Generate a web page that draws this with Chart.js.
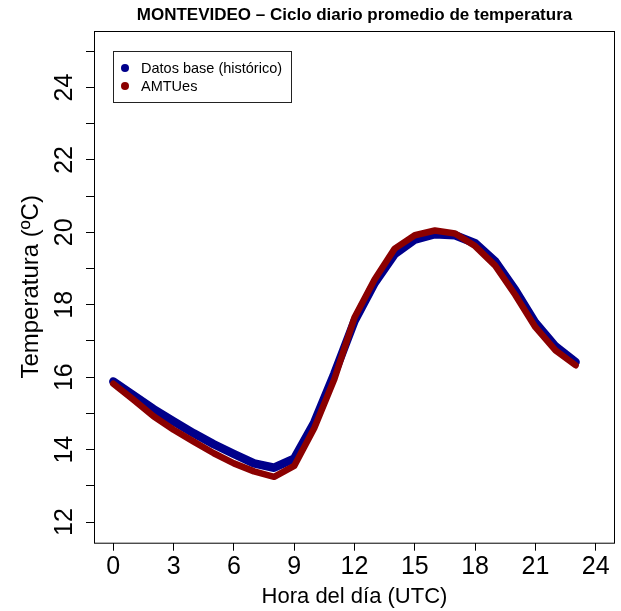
<!DOCTYPE html>
<html>
<head>
<meta charset="utf-8">
<title>MONTEVIDEO - Ciclo diario</title>
<script src="https://cdn.jsdelivr.net/npm/chart.js@4"></script>
<style>
  html, body { margin: 0; padding: 0; background: #fff; }
  #grafico { display: block; }
</style>
</head>
<body>
<canvas id="grafico" width="621" height="611"></canvas>
<script>
/** Datos del grafico */
const horas = [0, 1, 2, 3, 4, 5, 6, 7, 8, 9, 10, 11, 12, 13, 14, 15, 16, 17, 18, 19, 20, 21, 22, 23];
const tempBase = [15.88, 15.50, 15.12, 14.78, 14.45, 14.15, 13.88, 13.62, 13.50, 13.75, 14.75, 16.10,
    17.55, 18.60, 19.40, 19.80, 19.95, 19.92, 19.70, 19.20, 18.40, 17.50, 16.85, 16.42];
const tempAMTUes = [15.82, 15.38, 14.92, 14.55, 14.22, 13.90, 13.62, 13.40, 13.25, 13.55, 14.60, 15.95,
    17.65, 18.70, 19.55, 19.92, 20.05, 19.97, 19.62, 19.08, 18.27, 17.38, 16.74, 16.33];
const ticksX = [0, 3, 6, 9, 12, 15, 18, 21, 24];
const ticksY = [12, 13, 14, 15, 16, 17, 18, 19, 20, 21, 22, 23, 24, 25];
const etiquetas = ["Datos base (histórico)", "AMTUes"];

const fuente = "'Liberation Sans', Arial, Helvetica, sans-serif";
const azul = "#00008B";
const rojo = "#8B0000";

function puntos(valores) {
    return horas.map((h, i) => ({ x: h, y: valores[i] }));
}

/** Caja del grafico y leyenda */
const cajaYLeyenda = {
    id: "cajaYLeyenda",
    afterDraw(chart) {
        const c = chart.ctx;
        const a = chart.chartArea;
        c.save();
        c.strokeStyle = "#000";
        c.lineWidth = 1;
        c.strokeRect(a.left + 0.5, a.top + 0.5, a.right - a.left - 1, a.bottom - a.top);

        // leyenda
        c.strokeStyle = "#222";
        c.strokeRect(113.5, 51.5, 178, 51);
        const filas = [68, 86];
        chart.data.datasets.forEach((ds, i) => {
            c.fillStyle = ds.borderColor;
            c.beginPath();
            c.arc(125, filas[i], 4, 0, Math.PI * 2);
            c.fill();
            c.fillStyle = "#000";
            c.font = "14.5px " + fuente;
            c.textBaseline = "middle";
            c.textAlign = "left";
            c.fillText(ds.label, 141, filas[i] + 1);
        });
        c.restore();
    }
};

const ctx = document.getElementById("grafico");

new Chart(ctx, {
    type: "line",
    data: {
        datasets: [{
            label: etiquetas[0],
            data: puntos(tempBase),
            borderColor: azul,
            backgroundColor: azul,
            borderWidth: 8.5,
            order: 1
        }, {
            label: etiquetas[1],
            data: puntos(tempAMTUes),
            borderColor: rojo,
            backgroundColor: rojo,
            borderWidth: 6.5,
            order: 0
        }]
    },
    options: {
        responsive: false,
        animation: false,
        devicePixelRatio: 1,
        layout: { padding: { left: 0, right: 6, top: 0, bottom: 0 } },
        elements: {
            point: { radius: 0, hoverRadius: 0 },
            line: { tension: 0, borderCapStyle: "round", borderJoinStyle: "round" }
        },
        plugins: {
            legend: { display: false },
            tooltip: { enabled: false },
            title: {
                display: true,
                fullSize: false,
                text: "MONTEVIDEO \u2013 Ciclo diario promedio de temperatura",
                color: "#000",
                font: { family: fuente, size: 17, weight: "bold", lineHeight: 1.2 },
                padding: { top: 5, bottom: 5.6 }
            }
        },
        scales: {
            x: {
                type: "linear",
                min: -0.96,
                max: 24.96,
                afterBuildTicks: (s) => { s.ticks = ticksX.map(v => ({ value: v })); },
                afterFit: (s) => { s.height = 68.3; },
                grid: { drawOnChartArea: false, tickLength: 8, color: "#000", tickWidth: 1 },
                border: { display: false },
                ticks: {
                    color: "#000",
                    padding: 1,
                    maxRotation: 0,
                    font: { family: fuente, size: 25 }
                },
                title: {
                    display: true,
                    text: "Hora del día (UTC)",
                    color: "#000",
                    font: { family: fuente, size: 22, lineHeight: 1 },
                    padding: { top: 0, bottom: 3 }
                }
            },
            y: {
                min: 11.43,
                max: 25.56,
                afterBuildTicks: (s) => { s.ticks = ticksY.map(v => ({ value: v })); },
                afterFit: (s) => { s.width = 94; },
                grid: { drawOnChartArea: false, tickLength: 8, color: "#000", tickWidth: 1 },
                border: { display: false },
                ticks: {
                    color: "#000",
                    padding: 7,
                    minRotation: 90,
                    maxRotation: 90,
                    crossAlign: "center",
                    font: { family: fuente, size: 25 },
                    callback: (v) => (v % 2 === 0 ? v : "")
                },
                title: {
                    display: true,
                    text: "Temperatura (ºC)",
                    color: "#000",
                    font: { family: fuente, size: 24, lineHeight: 1 },
                    padding: { top: 19, bottom: 0 }
                }
            }
        }
    },
    plugins: [cajaYLeyenda]
});
</script>
</body>
</html>
